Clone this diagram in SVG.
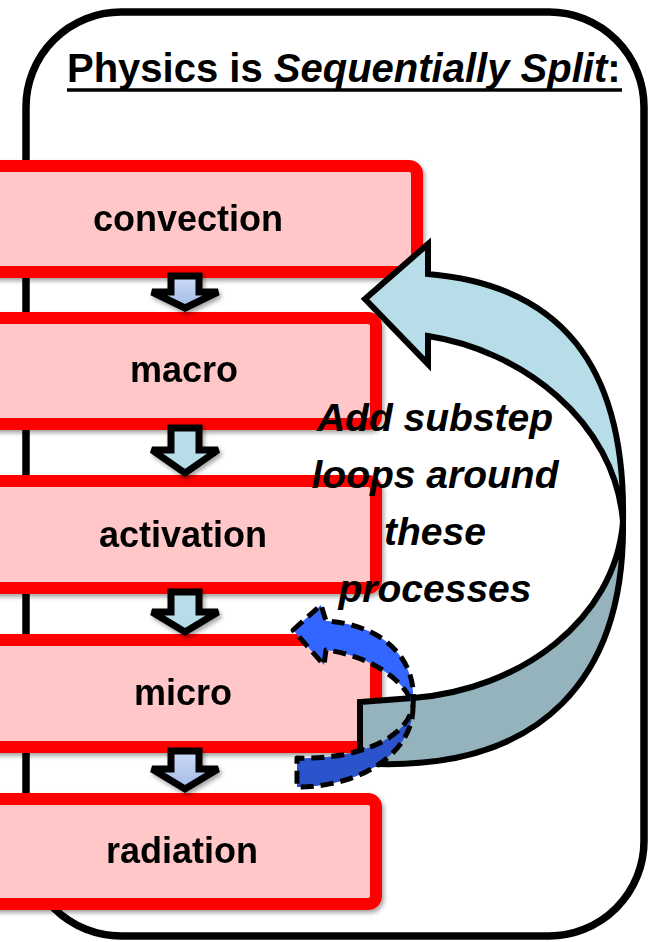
<svg xmlns="http://www.w3.org/2000/svg" width="650" height="942" viewBox="0 0 650 942">
  <style>
    .frame { fill: #FFFFFF; stroke: #000000; stroke-width: 7.5; }
    .title { font-family: "Liberation Sans", Arial, sans-serif; font-weight: bold; font-size: 40px; fill: #000000; }
    .it { font-style: italic; }
    .box { fill: #FFC7C7; stroke: #FF0000; stroke-width: 12; }
    .label { font-family: "Liberation Sans", Arial, sans-serif; font-weight: bold; font-size: 36px; fill: #000000; text-anchor: middle; }
    .step { stroke: #000000; stroke-width: 7; stroke-linejoin: miter; stroke-miterlimit: 2; }
    .loop { stroke: #000000; stroke-width: 6; stroke-linejoin: miter; stroke-miterlimit: 4; }
    .sub { stroke: #000000; stroke-width: 5; stroke-dasharray: 13 7; stroke-linejoin: round; }
    .note { font-family: "Liberation Sans", Arial, sans-serif; font-weight: bold; font-style: italic; font-size: 39px; fill: #000000; text-anchor: middle; }
  </style>
  <defs>
    <filter id="shadow" x="-10%" y="-10%" width="130%" height="140%">
      <feDropShadow dx="2" dy="3" stdDeviation="2" flood-color="#000000" flood-opacity="0.35"/>
    </filter>
    <linearGradient id="lavender" x1="0" y1="0" x2="0" y2="1">
      <stop offset="0" stop-color="#CCDAF6"/>
      <stop offset="1" stop-color="#A3BBE8"/>
    </linearGradient>
  </defs>

  <!-- outer frame and heading -->
  <rect id="frame" class="frame" x="26" y="12" width="618" height="924" rx="95" ry="95"/>
  <g id="title">
    <text class="title" x="67" y="82">Physics is <tspan class="it">Sequentially Split</tspan>:</text>
    <line x1="67" y1="90" x2="622" y2="90" stroke="#000000" stroke-width="3.5"/>
  </g>

  <!-- physics process boxes -->
  <g id="convection" filter="url(#shadow)">
    <rect class="box" x="-20" y="166" width="437" height="106" rx="8"/>
    <text class="label" x="188" y="231">convection</text>
  </g>
  <g id="macro" filter="url(#shadow)">
    <rect class="box" x="-20" y="318" width="396" height="106" rx="8"/>
    <text class="label" x="184" y="382">macro</text>
  </g>
  <g id="activation" filter="url(#shadow)">
    <rect class="box" x="-20" y="481" width="396" height="107" rx="8"/>
    <text class="label" x="183" y="547">activation</text>
  </g>
  <g id="micro" filter="url(#shadow)">
    <rect class="box" x="-20" y="640" width="396" height="107" rx="8"/>
    <text class="label" x="183" y="705">micro</text>
  </g>
  <g id="radiation" filter="url(#shadow)">
    <rect class="box" x="-20" y="799" width="396" height="105" rx="8"/>
    <text class="label" x="182" y="863">radiation</text>
  </g>

  <!-- sequence arrows between boxes -->
  <g id="connectors" filter="url(#shadow)">
    <path class="step" fill="url(#lavender)" d="M171,276 L199,276 L199,292 L218,292 L185,308 L152,292 L171,292 Z"/>
    <path class="step" fill="#B7DDE8" d="M171,428 L199,428 L199,450 L218,450 L185,473 L152,450 L171,450 Z"/>
    <path class="step" fill="#B7DDE8" d="M171,592 L199,592 L199,612 L218,612 L185,632 L152,612 L171,612 Z"/>
    <path class="step" fill="url(#lavender)" d="M171,751 L199,751 L199,769 L218,769 L185,789 L152,769 L171,769 Z"/>
  </g>

  <!-- large curved arrow from the bottom of micro back up to convection -->
  <g id="loop-arrow">
    <path class="loop" fill="#B7DDE8" d="M365,299 L428,244 L428,274 C560,285 626,365 623,522 C615,420 520,350 428,336 L428,364 Z"/>
    <path class="loop" fill="#94B3BD" d="M623,522 C625,680 540,768 377,764 L360,748 L360,702 L413,698 C520,690 615,620 623,522 Z"/>
  </g>

  <!-- dashed substep arrow around micro -->
  <g id="substep-arrow">
    <path class="sub" fill="#3366FF" d="M293,630 L321,605 L326,621 C378,624 418,655 413,706 C407,682 372,656 326,650 L324,665 Z"/>
    <path class="sub" fill="#2B53CB" d="M413,706 C414,752 362,787 297,787 L297,758 C350,760 406,742 413,706 Z"/>
  </g>

  <g id="note">
    <text class="note" x="435" y="431">Add substep</text>
    <text class="note" x="435" y="488">loops around</text>
    <text class="note" x="435" y="545">these</text>
    <text class="note" x="435" y="602">processes</text>
  </g>
</svg>
